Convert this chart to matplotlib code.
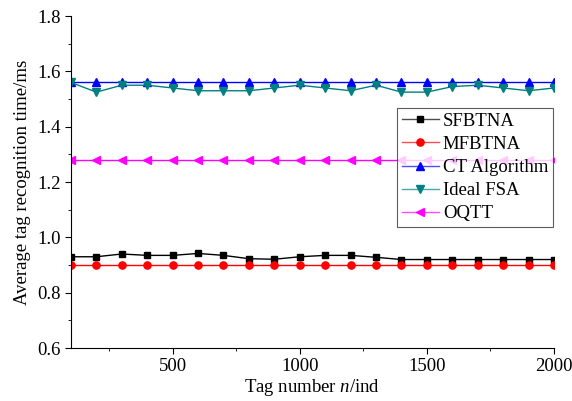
import matplotlib
matplotlib.use("Agg")
import matplotlib.pyplot as plt
from matplotlib.ticker import MultipleLocator, FixedLocator
from matplotlib.colors import to_rgb

plt.rcParams['font.family'] = ['Liberation Serif', 'DejaVu Serif']
plt.rcParams['mathtext.fontset'] = 'custom'
plt.rcParams['mathtext.rm'] = 'Liberation Serif'
plt.rcParams['mathtext.it'] = 'Liberation Serif:italic'

x = list(range(100, 2001, 100))
sfbtna = [0.93, 0.93, 0.94, 0.935, 0.935, 0.942, 0.935, 0.923, 0.921, 0.93,
          0.935, 0.935, 0.928, 0.92, 0.92, 0.92, 0.92, 0.92, 0.92, 0.92]
mfbtna = [0.90] * 20
ct = [1.56] * 20
ideal_fsa = [1.56, 1.525, 1.55, 1.55, 1.54, 1.53, 1.53, 1.53, 1.54, 1.55,
             1.54, 1.53, 1.55, 1.525, 1.525, 1.545, 1.55, 1.54, 1.53, 1.54]
oqtt = [1.28] * 20

fs = 13.5
fig = plt.figure(figsize=(5.72, 4.01), dpi=100)
ax = fig.add_axes([0.124, 0.132, 0.8445, 0.828])

ax.plot(x, sfbtna, color='black', marker='s', ms=4.5, lw=1, label='SFBTNA')
ax.plot(x, mfbtna, color='red', marker='o', ms=5.2, lw=1, label='MFBTNA')
ax.plot(x, ct, color='blue', marker='^', ms=5.8, lw=1, label='CT Algorithm')
ax.plot(x, ideal_fsa, color='#008080', marker='v', ms=5.8, lw=1, label='Ideal FSA')
ax.plot(x, oqtt, color='magenta', marker='<', ms=5.8, lw=1, label='OQTT')

ax.set_xlim(100, 2000)
ax.set_ylim(0.6, 1.8)
ax.xaxis.set_major_locator(FixedLocator([500, 1000, 1500, 2000]))
ax.xaxis.set_minor_locator(FixedLocator([250, 750, 1250, 1750]))
ax.yaxis.set_major_locator(MultipleLocator(0.2))
ax.yaxis.set_minor_locator(MultipleLocator(0.1))
ax.yaxis.set_major_formatter(matplotlib.ticker.FormatStrFormatter('%.1f'))
ax.tick_params(axis='both', which='both', direction='out', labelsize=fs)
ax.tick_params(which='major', length=4)
ax.tick_params(which='minor', length=2.5)
ax.spines['top'].set_visible(False)
ax.spines['right'].set_visible(False)

ax.set_xlabel('Tag number $\\it{n}$/ind', fontsize=fs, labelpad=1)
ax.set_ylabel('Average tag recognition time/ms', fontsize=fs, labelpad=4)

leg = ax.legend(loc='upper left', bbox_to_anchor=(0.675, 0.723), fontsize=fs,
                frameon=True, fancybox=False, edgecolor='#333333',
                borderpad=0.25, labelspacing=0.32, handlelength=2.0,
                handletextpad=0.2, borderaxespad=0)
leg.get_frame().set_linewidth(0.8)
for h in leg.get_lines():
    c = to_rgb(h.get_color())
    h.set_markerfacecolor(c)
    h.set_markeredgecolor(c)
    h.set_color(tuple(0.3 + 0.7 * v for v in c))

fig.savefig('out.png', dpi=100)
